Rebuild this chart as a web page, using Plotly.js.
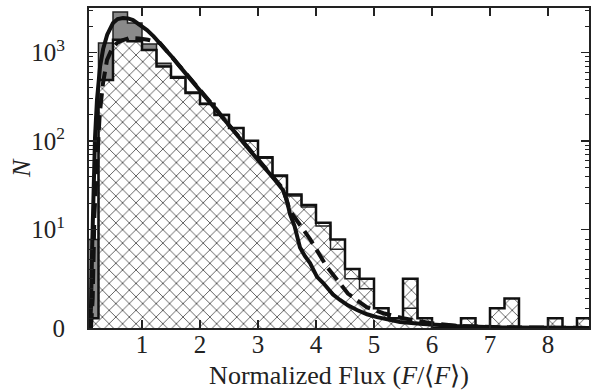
<!DOCTYPE html>
<html><head><meta charset="utf-8">
<script src="https://cdn.plot.ly/plotly-3.0.1.min.js"></script>
<style>html,body{margin:0;padding:0;background:#fff;}</style>
</head><body><div id="chart" style="width:592px;height:390px;"></div>
<script>
// ---- data ----
const BIN_START = 0.0;
const BIN_WIDTH = 0.25;
const hatchedCounts = [1, 490, 1400, 1350, 1070, 700, 520, 350, 263, 198, 141, 101, 66, 41, 25, 19, 12, 9, 6, 5, 2, 1, 5, 1, 0, 0, 1, 0, 2, 3, 0, 0, 1, 0, 1];
const grayCounts = [9, 1290, 2880, 2160, 1250, 760, 540, 360, 268, 200, 140, 100, 64, 40, 24, 18, 11, 8, 5, 4, 2, 1, 2, 1];

const solidX = [0.10, 0.12, 0.14, 0.16, 0.19, 0.224, 0.276, 0.33, 0.40, 0.50, 0.58, 0.672, 0.76, 0.845, 0.95, 1.086, 1.20, 1.31, 1.42, 1.534, 1.65, 1.776, 1.90, 2.00, 2.15, 2.293, 2.43, 2.569, 2.71, 2.862, 3.00, 3.155, 3.30, 3.431, 3.50, 3.552, 3.63, 3.724, 3.81, 3.897, 4.017, 4.121, 4.293, 4.414, 4.55, 4.707, 4.88, 5.052, 5.276, 5.448, 5.845, 6.431, 7.17, 8.71];
const solidN = [0, 2, 8, 30, 110, 292, 689, 1100, 1600, 2163, 2400, 2466, 2440, 2339, 2100, 1803, 1530, 1286, 1060, 871, 700, 560, 450, 378, 290, 225, 172, 134, 103, 79, 62, 47, 36, 28, 21, 15, 11, 8.2, 7.3, 6.6, 5.2, 4.6, 3.4, 2.85, 2.3, 1.83, 1.4, 1.1, 0.81, 0.61, 0.41, 0.2, 0.06, 0.01];

const dashX = [0.12, 0.15, 0.18, 0.22, 0.27, 0.328, 0.397, 0.48, 0.569, 0.672, 0.79, 0.95, 1.10, 1.31, 1.42, 1.534, 1.65, 1.776, 1.90, 2.00, 2.15, 2.293, 2.43, 2.569, 2.71, 2.862, 3.00, 3.155, 3.30, 3.431, 3.552, 3.72, 3.897, 4.19, 4.55, 4.88, 5.16, 5.50, 5.97, 6.48, 7.17, 8.71];
const dashN = [0, 3, 15, 60, 200, 454, 828, 1100, 1286, 1390, 1465, 1450, 1400, 1286, 1060, 871, 700, 560, 450, 378, 290, 225, 172, 134, 103, 79, 62, 47, 36, 29, 16.3, 11.6, 9.05, 6.2, 3.5, 2.1, 1.5, 1.0, 0.5, 0.2, 0.07, 0.01];

const xTicks = [1, 2, 3, 4, 5, 6, 7, 8];
const yTickN = [0, 10, 100, 1000];
const yTickText = ['0', '10<sup>1</sup>', '10<sup>2</sup>', '10<sup>3</sup>'];
const yMinorN = [1,2,3,4,5,6,7,8,9,20,30,40,50,60,70,80,90,200,300,400,500,600,700,800,900,2000,3000];
const X_RANGE = [0.0862, 8.707];
const Y_MAX_N = 3200;

// ---- symlog transform (linthresh 10, linscale 1) ----
const LINTHRESH = 10;
const LS = 1 / (1 - 1 / 10);
function T(n) { return n <= LINTHRESH ? n / LINTHRESH * LS : LS + Math.log10(n / LINTHRESH); }

function centers(counts) { return counts.map((_, i) => BIN_START + (i + 0.5) * BIN_WIDTH); }
function stepOutline(counts) {
  const xs = [BIN_START], ys = [0];
  counts.forEach((c, i) => { xs.push(BIN_START + i * BIN_WIDTH); ys.push(T(c)); });
  xs.push(BIN_START + counts.length * BIN_WIDTH); ys.push(T(counts[counts.length - 1]));
  xs.push(BIN_START + counts.length * BIN_WIDTH); ys.push(0);
  return {xs, ys};
}

const gOut = stepOutline(grayCounts);
const hOut = stepOutline(hatchedCounts);

const traces = [
  { type: 'bar', x: centers(grayCounts), y: grayCounts.map(T), width: BIN_WIDTH,
    marker: { color: '#8a8a8a', line: { width: 0 } }, hoverinfo: 'skip' },
  { type: 'scatter', mode: 'lines', x: gOut.xs, y: gOut.ys, line: { shape: 'hv', color: '#222', width: 1.5 }, hoverinfo: 'skip' },
  { type: 'bar', x: centers(hatchedCounts), y: hatchedCounts.map(T), width: BIN_WIDTH,
    marker: { color: 'white', line: { width: 0 },
      pattern: { shape: 'x', fgcolor: '#3a3a3a', bgcolor: 'white', size: 9.5, solidity: 0.16, fillmode: 'replace' } },
    hoverinfo: 'skip' },
  { type: 'scatter', mode: 'lines', x: hOut.xs, y: hOut.ys, line: { shape: 'hv', color: '#111', width: 2.5 }, hoverinfo: 'skip' },
  { type: 'scatter', mode: 'lines', x: dashX, y: dashN.map(T), line: { color: '#111', width: 4, dash: '15px,7px' }, hoverinfo: 'skip' },
  { type: 'scatter', mode: 'lines', x: solidX, y: solidN.map(T), line: { color: '#111', width: 4 }, hoverinfo: 'skip' }
];

const FONT = '"Liberation Serif", "Times New Roman", serif';
const layout = {
  width: 592, height: 390,
  margin: { l: 89, r: 3, t: 8, b: 62 },
  paper_bgcolor: 'white', plot_bgcolor: 'white',
  showlegend: false, bargap: 0, barmode: 'overlay',
  font: { family: FONT, size: 25, color: '#222' },
  xaxis: {
    range: X_RANGE, tickvals: xTicks, ticktext: xTicks.map(String),
    ticks: 'inside', ticklen: 8, tickwidth: 1.5, tickcolor: '#222',
    showline: true, linewidth: 2, linecolor: '#222', mirror: 'ticks',
    showgrid: false, zeroline: false, ticklabelstandoff: -7,
    tickfont: { family: FONT, size: 25, color: '#222' },
    title: { text: 'Normalized Flux (<i>F</i>/⟨<i>F</i>⟩)', font: { family: FONT, size: 26, color: '#222' }, standoff: 10 }
  },
  yaxis: {
    range: [0, T(Y_MAX_N)], tickvals: yTickN.map(T), ticktext: yTickText,
    ticks: 'inside', ticklen: 8, tickwidth: 1.5, tickcolor: '#222',
    showline: true, linewidth: 2, linecolor: '#222', mirror: 'ticks',
    showgrid: false, zeroline: false, ticklabelstandoff: 17,
    minor: { tickvals: yMinorN.map(T), ticks: 'inside', ticklen: 4, tickwidth: 1, tickcolor: '#222', showgrid: false },
    tickfont: { family: FONT, size: 25, color: '#222' }
  },
  annotations: [
    { text: '<i>N</i>', xref: 'paper', yref: 'paper', x: -0.136, y: 0.5, xanchor: 'center', yanchor: 'middle',
      textangle: -90, showarrow: false, font: { family: FONT, size: 26, color: '#222' } }
  ]
};

Plotly.newPlot('chart', traces, layout, { staticPlot: true, displayModeBar: false });
</script>
</body></html>
